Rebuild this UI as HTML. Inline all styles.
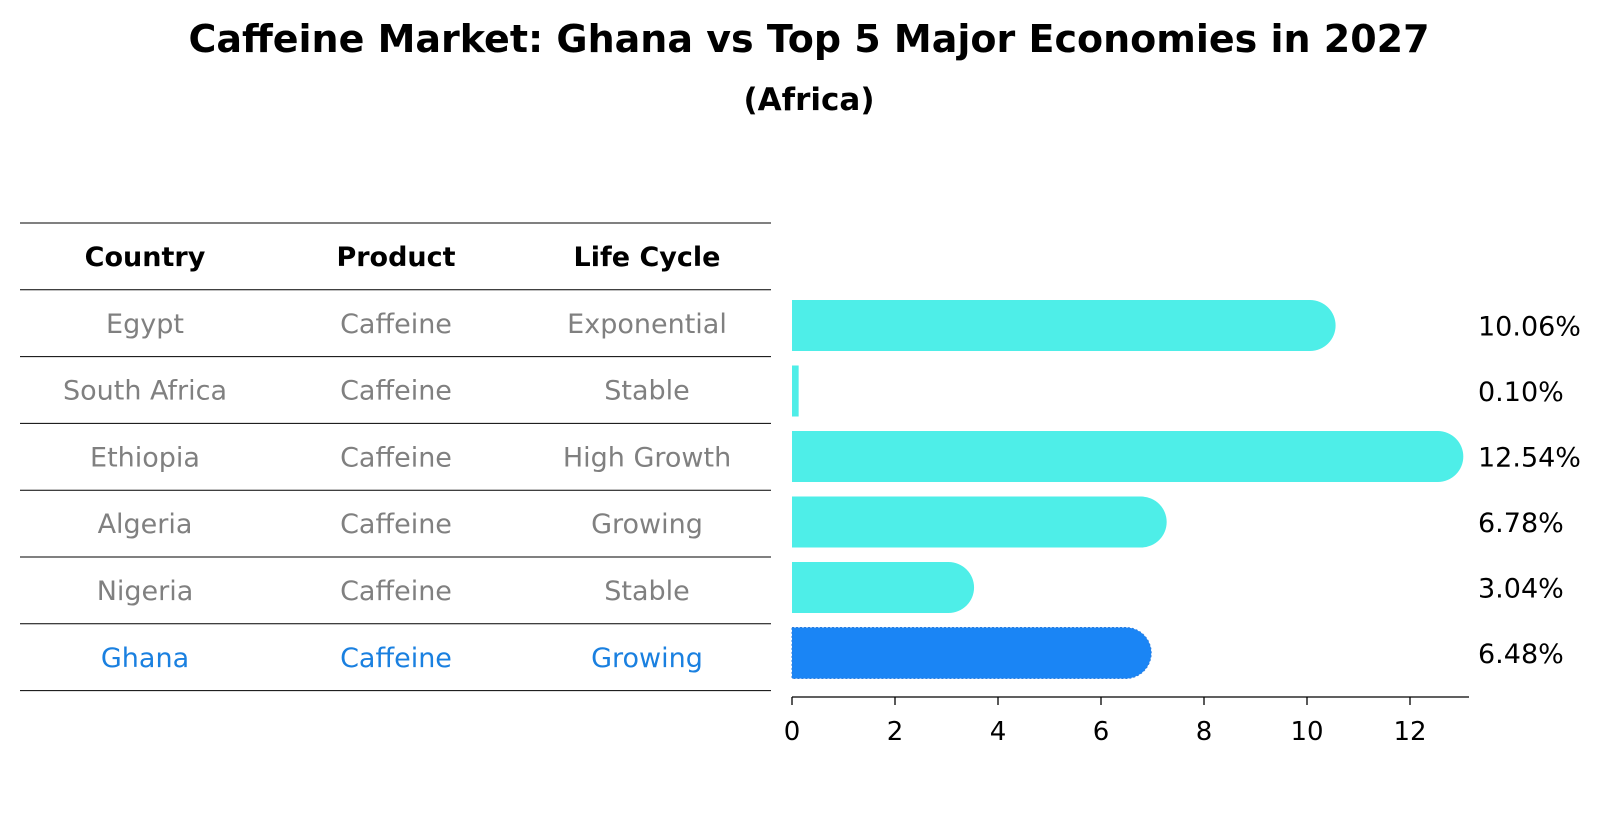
<!DOCTYPE html>
<html><head><meta charset="utf-8"><style>
body{margin:0;background:#fff;}
svg text{font-family:"DejaVu Sans","Liberation Sans",sans-serif;}
</style></head><body>
<svg id="c" width="1604" height="823" xmlns="http://www.w3.org/2000/svg">
<text x="809" y="52" text-anchor="middle" font-size="38" font-weight="bold">Caffeine Market: Ghana vs Top 5 Major Economies in 2027</text>
<text x="809" y="110" text-anchor="middle" font-size="31" font-weight="bold">(Africa)</text>
<g id="table"></g>
<g id="bars"></g>
</svg>
<script>
const countries=["Egypt","South Africa","Ethiopia","Algeria","Nigeria","Ghana"];
const products=["Caffeine","Caffeine","Caffeine","Caffeine","Caffeine","Caffeine"];
const lifeCycles=["Exponential","Stable","High Growth","Growing","Stable","Growing"];
const values=[10.06,0.10,12.54,6.78,3.04,6.48];
const ticks=[0,2,4,6,8,10,12];
const NS="http://www.w3.org/2000/svg";
function mk(t,a,p){const e=document.createElementNS(NS,t);for(const k in a)e.setAttribute(k,a[k]);p.appendChild(e);return e;}
const tbl=document.getElementById('table'),bars=document.getElementById('bars');
const lineY=i=>223+i*66.8;
const colX=[145,396,647];
for(let i=0;i<=7;i++){const l=mk('line',{x1:20,x2:771,y1:lineY(i),y2:lineY(i),stroke:'#000','stroke-width':1},tbl);

}
["Country","Product","Life Cycle"].forEach((h,j)=>{const t=mk('text',{x:colX[j],y:lineY(0)+43,'text-anchor':'middle','font-size':27,'font-weight':'bold'},tbl);t.textContent=h;

});
countries.forEach((c,i)=>{const col=i===countries.length-1?'#1a80e0':'#808080';
[c,products[i],lifeCycles[i]].forEach((v,j)=>{const t=mk('text',{x:colX[j],y:lineY(i+1)+43,'text-anchor':'middle','font-size':27,fill:col},tbl);t.textContent=v;

});});
const x0=792,unit=51.5,xs=v=>x0+v*unit;
const rowY=i=>325.5+i*65.5, bh=51, r=bh/2;
values.forEach((v,i)=>{const w=xs(v)-x0;const isG=i===values.length-1;const top=rowY(i)-bh/2;
let d;
if(w>r){d=`M${x0},${top} h${w} a${r},${r} 0 0 1 0,${bh} h${-w} z`;}
else{d=`M${x0},${top} h${w+1.5} v${bh} h${-(w+1.5)} z`;}
const b=mk('path',{d:d,fill:isG?'#1a85f5':'#4eeee8'},bars);
if(isG){b.setAttribute('stroke','#2a7de0');b.setAttribute('stroke-dasharray','2,2');}


const t=mk('text',{x:1478,y:rowY(i)+10,'font-size':27},bars);t.textContent=v.toFixed(2)+'%';

});
const ax=mk('line',{x1:x0,x2:1469,y1:697,y2:697,stroke:'#000','stroke-width':1.3},bars);


ticks.forEach(t=>{const l=mk('line',{x1:xs(t),x2:xs(t),y1:697,y2:705,stroke:'#000','stroke-width':1.3},bars);


const s=mk('text',{x:xs(t),y:740,'text-anchor':'middle','font-size':26},bars);s.textContent=t;

});
</script>
</body></html>
